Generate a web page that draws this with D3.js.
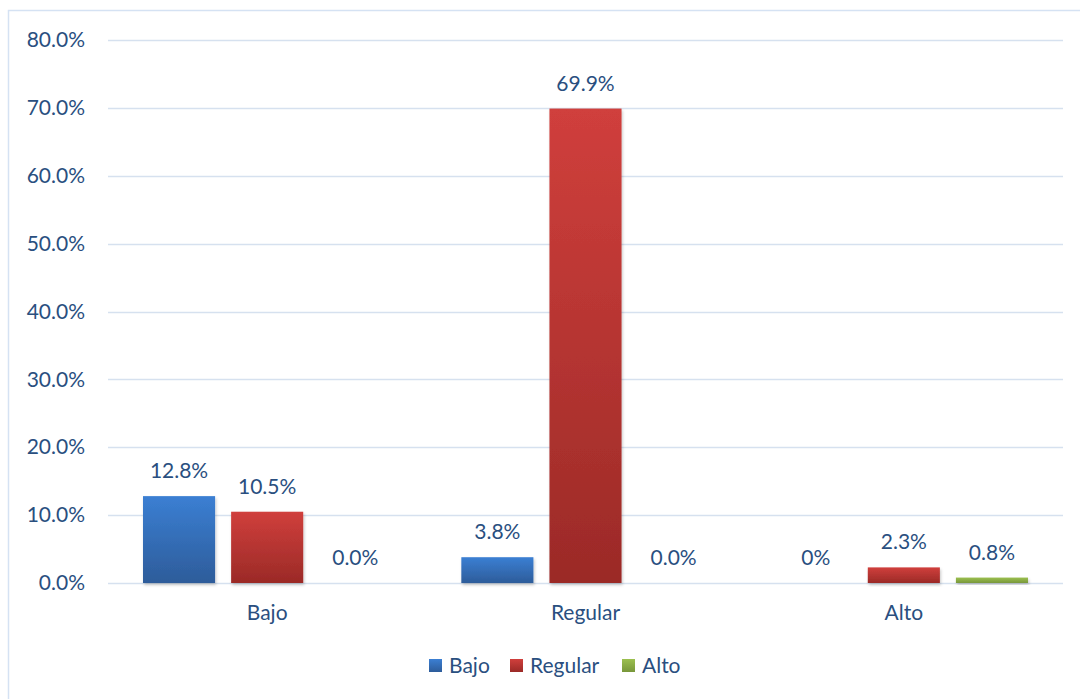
<!DOCTYPE html>
<html>
<head>
<meta charset="utf-8">
<script src="https://cdn.jsdelivr.net/npm/d3@7/dist/d3.min.js"></script>
<style>
  html, body { margin: 0; padding: 0; background: #fff; }
  svg { display: block; font-family: Lato, "Open Sans", sans-serif; }
</style>
</head>
<body>
<svg id="chart" width="1080" height="699"></svg>
<script>
// Categories along the x axis and the series drawn in each group
const categories = ["Bajo", "Regular", "Alto"];
const seriesNames = ["Bajo", "Regular", "Alto"];
const bajoValues = [12.8, 3.8, 0];
const regularValues = [10.5, 69.9, 2.3];
const altoValues = [0, 0, 0.8];
// Printed labels above each bar (one zero is printed without decimals)
const bajoLabels = ["12.8%", "3.8%", "0%"];
const regularLabels = ["10.5%", "69.9%", "2.3%"];
const altoLabels = ["0.0%", "0.0%", "0.8%"];
const yTicks = [0, 10, 20, 30, 40, 50, 60, 70, 80];

const seriesValues = [bajoValues, regularValues, altoValues];
const seriesLabels = [bajoLabels, regularLabels, altoLabels];
const colors = [
  { top: "#3b7fd3", bottom: "#2d5c9a" },
  { top: "#d03f3c", bottom: "#9b2a27" },
  { top: "#9cc04f", bottom: "#78973a" }
];
const textColor = "#2a4f7f";
const fontSize = 21;

const svg = d3.select("#chart");
const defs = svg.append("defs");
colors.forEach((c, i) => {
  const g = defs.append("linearGradient").attr("id", "grad" + i)
    .attr("x1", 0).attr("y1", 0).attr("x2", 0).attr("y2", 1);
  g.append("stop").attr("offset", "0%").attr("stop-color", c.top);
  g.append("stop").attr("offset", "100%").attr("stop-color", c.bottom);
});
const shadow = defs.append("filter").attr("id", "shadow")
  .attr("x", "-10%").attr("y", "-10%").attr("width", "130%").attr("height", "130%");
shadow.append("feDropShadow").attr("dx", 1).attr("dy", 2).attr("stdDeviation", 1.5)
  .attr("flood-color", "#000").attr("flood-opacity", 0.22);

// Chart frame
svg.append("rect").attr("x", 8.5).attr("y", 10.5).attr("width", 1090).attr("height", 700)
  .attr("fill", "none").attr("stroke", "#d5e2f3").attr("stroke-width", 1.5);

const plotLeft = 108, plotRight = 1063, plotTop = 40, plotBottom = 583;

const y = d3.scaleLinear().domain([0, 80]).range([plotBottom, plotTop]);
const x0 = d3.scaleBand().domain(categories).range([plotLeft, plotRight]).paddingInner(0).paddingOuter(0);
const x1 = d3.scaleBand().domain(seriesNames).range([35, x0.bandwidth() - 35]).paddingInner(0.182).paddingOuter(0);

// Gridlines
svg.append("g").selectAll("line").data(yTicks).join("line")
  .attr("x1", plotLeft).attr("x2", plotRight)
  .attr("y1", d => Math.round(y(d)) + 0.5).attr("y2", d => Math.round(y(d)) + 0.5)
  .attr("stroke", "#d6e1ef").attr("stroke-width", 1.5);

// Y axis labels
const yAxis = d3.axisLeft(y).tickValues(yTicks).tickSize(0).tickPadding(0)
  .tickFormat(d => d.toFixed(1) + "%");
const yg = svg.append("g").attr("transform", `translate(${85},0)`).call(yAxis);
yg.select(".domain").remove();
yg.selectAll("text").attr("fill", textColor).attr("font-size", fontSize)
  .attr("font-family", "Lato, sans-serif");

// X axis labels
const xAxis = d3.axisBottom(x0).tickSize(0).tickPadding(0);
const xg = svg.append("g").attr("transform", `translate(0,${plotBottom + 22})`).call(xAxis);
xg.select(".domain").remove();
xg.selectAll("text").attr("fill", textColor).attr("font-size", fontSize)
  .attr("font-family", "Lato, sans-serif");

// Bars and value labels
const groups = svg.append("g").selectAll("g").data(categories).join("g")
  .attr("transform", d => `translate(${x0(d)},0)`);

seriesNames.forEach((s, si) => {
  groups.append("rect")
    .attr("x", x1(s))
    .attr("width", x1.bandwidth())
    .attr("y", (d, ci) => y(seriesValues[si][ci]))
    .attr("height", (d, ci) => plotBottom - y(seriesValues[si][ci]))
    .attr("fill", `url(#grad${si})`)
    .attr("filter", "url(#shadow)");
  groups.append("text")
    .attr("x", x1(s) + x1.bandwidth() / 2)
    .attr("y", (d, ci) => y(seriesValues[si][ci]) - 18)
    .attr("text-anchor", "middle")
    .attr("fill", textColor)
    .attr("font-size", fontSize)
    .text((d, ci) => seriesLabels[si][ci]);
});

// Legend
const legend = svg.append("g").attr("transform", "translate(429,659)");
const legendX = [0, 81, 193];
seriesNames.forEach((s, i) => {
  const g = legend.append("g").attr("transform", `translate(${legendX[i]},0)`);
  g.append("rect").attr("width", 13).attr("height", 13).attr("fill", `url(#grad${i})`);
  g.append("text").attr("x", 20).attr("y", 14).attr("fill", textColor)
    .attr("font-size", fontSize).text(s);
});
</script>
</body>
</html>
